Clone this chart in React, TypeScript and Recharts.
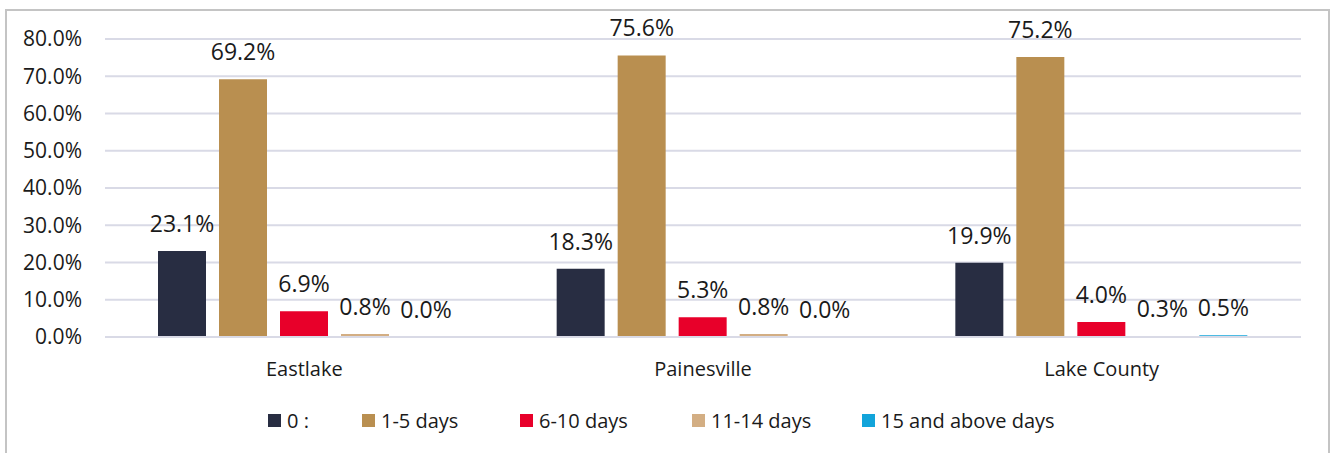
import { BarChart, Bar, XAxis, YAxis, CartesianGrid, LabelList } from 'recharts'

const categories = ['Eastlake', 'Painesville', 'Lake County']

const zeroDays = [23.1, 18.3, 19.9]
const oneToFive = [69.2, 75.6, 75.2]
const sixToTen = [6.9, 5.3, 4.0]
const elevenToFourteen = [0.8, 0.8, 0.3]
const fifteenPlus = [0.0, 0.0, 0.5]

const yTicks = [0, 10, 20, 30, 40, 50, 60, 70, 80]

const series = [
  { key: 'd0', name: '0 :', values: zeroDays, color: '#282D42' },
  { key: 'd1', name: '1-5 days', values: oneToFive, color: '#B98F50' },
  { key: 'd6', name: '6-10 days', values: sixToTen, color: '#E8002A' },
  { key: 'd11', name: '11-14 days', values: elevenToFourteen, color: '#D3AE83' },
  { key: 'd15', name: '15 and above days', values: fifteenPlus, color: '#12A4DA' },
]

const rows = categories.map((name, i) => {
  const row: Record<string, string | number> = { name }
  series.forEach((s) => {
    row[s.key] = s.values[i]
  })
  return row
})

// legend square positions, taken from the reference layout
const legendLeft = [268, 362, 520, 692, 862]

const font = '"Open Sans", sans-serif'
const textColor = '#1a1a1a'
const gridColor = '#D9DAE6'

const pct = (v: any) => `${Number(v).toFixed(1)}%`

// zero-height bars get dropped along with their label, so keep a hairline
const tinyForZero = (v: any) => (Number(v) === 0 ? 0.01 : 0)

export default function App() {
  return (
    <div
      style={{
        position: 'absolute',
        left: 0,
        top: 0,
        width: 1331,
        height: 453,
        overflow: 'hidden',
        background: '#fff',
        fontFamily: font,
      }}
    >
      <div
        style={{
          position: 'absolute',
          left: 5,
          top: 9,
          width: 1321,
          height: 470,
          border: '2px solid #C4C4C4',
        }}
      />
      <div style={{ position: 'absolute', left: 0, top: 0 }}>
        <BarChart
          width={1331}
          height={453}
          data={rows}
          margin={{ top: 39, right: 30, left: 0, bottom: 56 }}
          barCategoryGap={53}
          barGap={13}
        >
          <CartesianGrid vertical={false} stroke={gridColor} strokeWidth={2} />
          <XAxis
            dataKey="name"
            height={60}
            tickLine={false}
            tickSize={0}
            tickMargin={25}
            axisLine={{ stroke: gridColor, strokeWidth: 2 }}
            tick={{ fontSize: 20, fill: textColor, fontFamily: font }}
          />
          <YAxis
            width={105}
            domain={[0, 80]}
            ticks={yTicks}
            tickFormatter={pct}
            axisLine={false}
            tickLine={false}
            tickSize={0}
            tickMargin={23}
            tick={{ fontSize: 21, fill: textColor, fontFamily: font }}
          />
          {series.map((s) => (
            <Bar
              key={s.key}
              dataKey={s.key}
              name={s.name}
              fill={s.color}
              minPointSize={tinyForZero}
              isAnimationActive={false}
            >
              <LabelList
                dataKey={s.key}
                position="top"
                offset={19}
                formatter={pct}
                style={{ fontSize: 23, fill: textColor, fontFamily: font }}
              />
            </Bar>
          ))}
        </BarChart>
      </div>
      {series.map((s, i) => (
        <div
          key={s.key}
          style={{
            position: 'absolute',
            left: legendLeft[i],
            top: 408,
            height: 24,
            display: 'flex',
            alignItems: 'center',
            whiteSpace: 'nowrap',
            fontSize: 20,
            color: textColor,
          }}
        >
          <span style={{ display: 'inline-block', width: 13, height: 13, background: s.color, marginRight: 6 }} />
          <span>{s.name}</span>
        </div>
      ))}
    </div>
  )
}
